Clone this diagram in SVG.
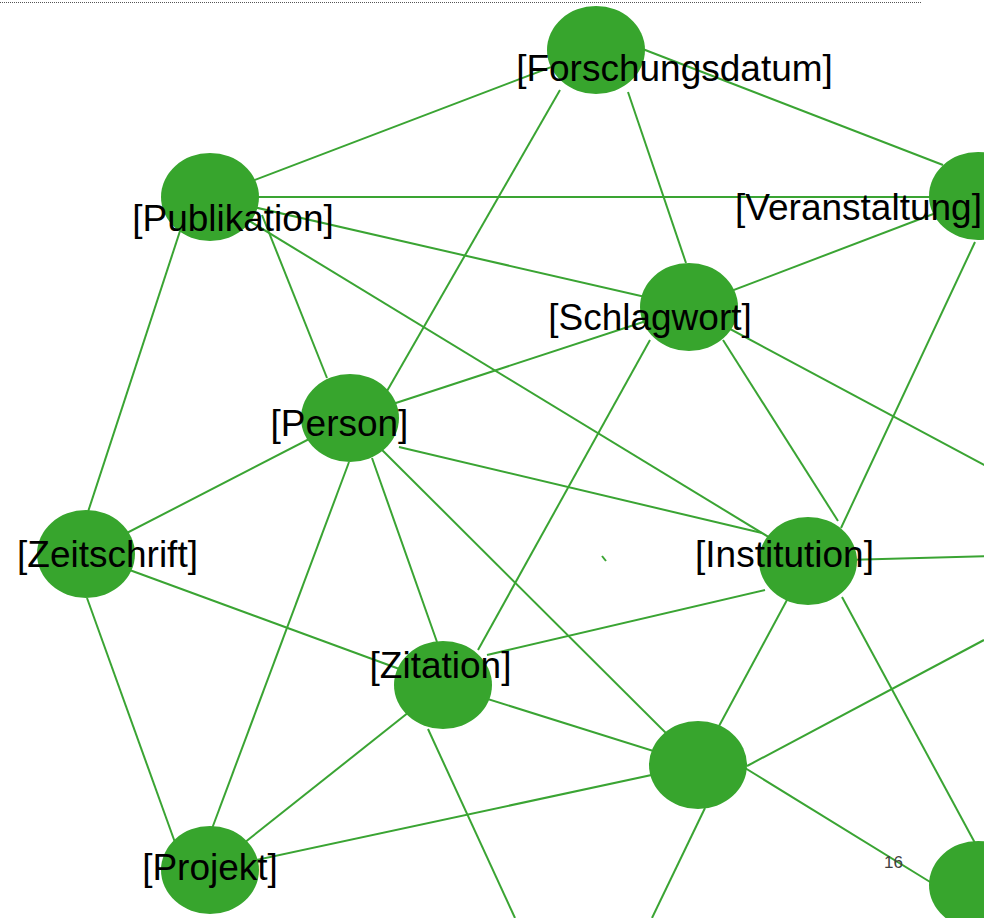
<svg xmlns="http://www.w3.org/2000/svg" width="984" height="918" viewBox="0 0 984 918">
<style>
.e{stroke:#3aa433;stroke-width:2;fill:none}
.n{fill:#37a52d}
.t{font-family:"Liberation Sans",Arial,sans-serif;font-size:37px;fill:#000;text-anchor:middle}
</style>
<rect width="984" height="918" fill="#fff"/>
<line x1="0" y1="2.5" x2="921" y2="2.5" stroke="#555" stroke-width="1" stroke-dasharray="1,1"/>
<g id="connectors">
<line class="e" x1="596" y1="50" x2="210" y2="197"/>
<line class="e" x1="640" y1="48" x2="943" y2="165"/>
<line class="e" x1="628" y1="92" x2="686" y2="263"/>
<line class="e" x1="560" y1="90" x2="383" y2="398"/>
<line class="e" x1="210" y1="197" x2="978" y2="197"/>
<line class="e" x1="210" y1="197" x2="689" y2="307"/>
<line class="e" x1="262" y1="215" x2="327" y2="378"/>
<line class="e" x1="210" y1="197" x2="808" y2="561"/>
<line class="e" x1="181" y1="228" x2="86" y2="518"/>
<line class="e" x1="978" y1="197" x2="689" y2="307"/>
<line class="e" x1="975" y1="242" x2="841" y2="528"/>
<line class="e" x1="689" y1="307" x2="350" y2="418"/>
<line class="e" x1="650" y1="340" x2="478" y2="650"/>
<line class="e" x1="723" y1="340" x2="838" y2="521"/>
<line class="e" x1="689" y1="307" x2="1100" y2="527"/>
<line class="e" x1="350" y1="418" x2="86" y2="554"/>
<line class="e" x1="399" y1="447" x2="762" y2="533"/>
<line class="e" x1="372" y1="458" x2="437" y2="642"/>
<line class="e" x1="350" y1="418" x2="698" y2="765"/>
<line class="e" x1="349" y1="462" x2="207" y2="842"/>
<line class="e" x1="86" y1="554" x2="443" y2="685"/>
<line class="e" x1="87" y1="598" x2="177" y2="848"/>
<line class="e" x1="765" y1="590" x2="487" y2="655"/>
<line class="e" x1="808" y1="561" x2="698" y2="765"/>
<line class="e" x1="808" y1="561" x2="1100" y2="553"/>
<line class="e" x1="842" y1="597" x2="975" y2="843"/>
<line class="e" x1="443" y1="685" x2="698" y2="765"/>
<line class="e" x1="443" y1="685" x2="210" y2="870"/>
<line class="e" x1="428" y1="729" x2="515" y2="918"/>
<line class="e" x1="698" y1="765" x2="210" y2="870"/>
<line class="e" x1="747" y1="766" x2="984" y2="640"/>
<line class="e" x1="745" y1="768" x2="935" y2="885"/>
<line class="e" x1="705" y1="808" x2="652" y2="918"/>
<line class="e" x1="602" y1="556" x2="606" y2="561"/>
</g>
<g id="n-forschungsdatum"><ellipse class="n" cx="596" cy="50" rx="49" ry="44"/><text class="t" x="674.5" y="81">[Forschungsdatum]</text></g>
<g id="n-publikation"><ellipse class="n" cx="210" cy="197" rx="49" ry="44"/><text class="t" x="233" y="231">[Publikation]</text></g>
<g id="n-veranstaltung"><ellipse class="n" cx="978" cy="196" rx="49" ry="44"/><text class="t" x="858.5" y="220">[Veranstaltung]</text></g>
<g id="n-schlagwort"><ellipse class="n" cx="689" cy="307" rx="49" ry="44"/><text class="t" x="650" y="330">[Schlagwort]</text></g>
<g id="n-person"><ellipse class="n" cx="350" cy="418" rx="49" ry="44"/><text class="t" x="339.5" y="436">[Person]</text></g>
<g id="n-zeitschrift"><ellipse class="n" cx="86" cy="554" rx="49" ry="44"/><text class="t" x="107.5" y="567">[Zeitschrift]</text></g>
<g id="n-institution"><ellipse class="n" cx="808" cy="561" rx="49" ry="44"/><text class="t" x="784.5" y="567">[Institution]</text></g>
<g id="n-zitation"><ellipse class="n" cx="443" cy="685" rx="49" ry="44"/><text class="t" x="440.5" y="678">[Zitation]</text></g>
<g id="n-unnamed"><ellipse class="n" cx="698" cy="765" rx="49" ry="44"/></g>
<g id="n-projekt"><ellipse class="n" cx="210" cy="870" rx="49" ry="44"/><text class="t" x="210" y="880">[Projekt]</text></g>
<g id="n-bottomright"><ellipse class="n" cx="978" cy="885" rx="49" ry="44"/></g>
<text x="884" y="868" font-family="'Liberation Sans',Arial,sans-serif" font-size="17" fill="#404040">16</text>
</svg>
